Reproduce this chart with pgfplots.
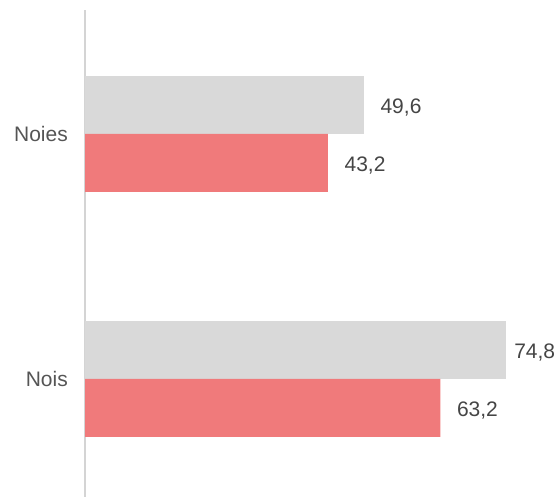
\documentclass[border=0pt]{standalone}
\usepackage{pgfplots}
\pgfplotsset{compat=1.18}
\usepackage{fontspec}
\setmainfont{Liberation Sans}
\definecolor{bargrey}{HTML}{D9D9D9}
\definecolor{barred}{HTML}{F07A7B}
\definecolor{axgrey}{HTML}{D4D4D4}
\definecolor{numtxt}{HTML}{454545}
\definecolor{cattxt}{HTML}{555555}
\begin{document}
\begin{tikzpicture}
\useasboundingbox (0,0) rectangle (559bp,497bp);
\begin{axis}[
  at={(85bp,0bp)}, anchor=south west,
  scale only axis,
  width=449.8bp, height=487bp,
  xmin=0, xmax=80,
  ymin=-0.4816, ymax=1.506,
  axis x line=none,
  axis y line*=left,
  axis line style={draw=axgrey, line width=2bp},
  xtick=\empty,
  ytick={0,1}, yticklabels={Nois,Noies},
  major tick length=0pt,
  yticklabel style={font=\fontsize{21bp}{24bp}\selectfont, text=cattxt, inner sep=0pt, xshift=-17bp},
  xbar, bar width=58bp,
  point meta=x,
  /pgf/number format/assume math mode=true,
  nodes near coords={\pgfmathprintnumber[fixed,fixed zerofill,precision=1,use comma]{\pgfplotspointmeta}},
  every node near coord/.append style={anchor=base west, inner sep=0pt, xshift=16.5bp, yshift=-8.5bp, font=\fontsize{21bp}{24bp}\selectfont, text=numtxt},
  clip=false,
]
\addplot[fill=bargrey, draw=none, bar shift=29bp] coordinates {(49.6,1)};
\addplot[fill=bargrey, draw=none, bar shift=29bp,
  every node near coord/.append style={xshift=-8bp}] coordinates {(74.8,0)};
\addplot[fill=barred, draw=none, bar shift=-29bp] coordinates {(63.2,0) (43.2,1)};
\end{axis}
\end{tikzpicture}
\end{document}
